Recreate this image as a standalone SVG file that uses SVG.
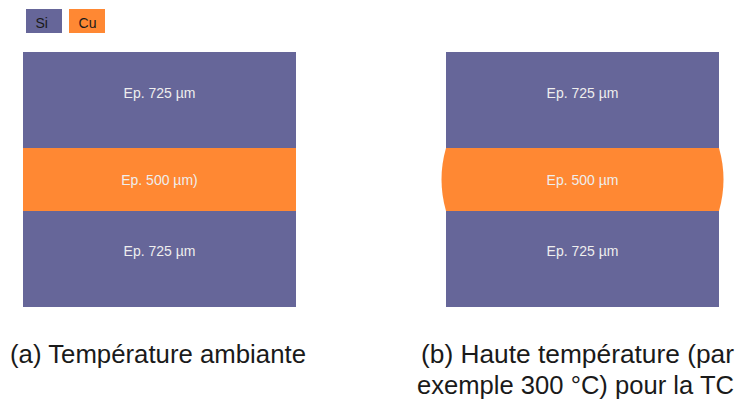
<svg xmlns="http://www.w3.org/2000/svg" width="737" height="402" viewBox="0 0 737 402">
<style>
.si{fill:#666699}
.cu{fill:#ff8833}
.lbl{font-family:"Liberation Sans",Arial,sans-serif;font-size:14px;fill:#eeeeee;text-anchor:middle}
.leg{font-family:"Liberation Sans",Arial,sans-serif;font-size:14px;fill:#1a1a1a}
.cap{font-family:"Liberation Sans",Arial,sans-serif;font-size:25px;fill:#1a1a1a}
</style>
<rect width="737" height="402" fill="#ffffff"/>
<g id="legend">
<g id="legend-si"><rect class="si" x="26" y="9" width="36" height="24"/><text class="leg" x="35.5" y="28">Si</text></g>
<g id="legend-cu"><rect class="cu" x="69" y="9" width="36" height="24"/><text class="leg" x="78.6" y="28">Cu</text></g>
</g>
<g id="stack-a">
<g id="a-si-top"><rect class="si" x="23" y="52" width="273" height="96"/><text class="lbl" x="159.5" y="97.7">Ep. 725 µm</text></g>
<g id="a-cu"><rect class="cu" x="23" y="148" width="273" height="63"/><text class="lbl" x="159.5" y="185">Ep. 500 µm)</text></g>
<g id="a-si-bottom"><rect class="si" x="23" y="211" width="273" height="96"/><text class="lbl" x="159.5" y="255.7">Ep. 725 µm</text></g>
</g>
<g id="stack-b">
<g id="b-si-top"><rect class="si" x="446" y="52" width="273" height="96"/><text class="lbl" x="582.5" y="97.7">Ep. 725 µm</text></g>
<g id="b-cu"><path class="cu" d="M446,148 L719,148 Q728,179.5 719,211 L446,211 Q437,179.5 446,148 Z"/><text class="lbl" x="582.5" y="185">Ep. 500 µm</text></g>
<g id="b-si-bottom"><rect class="si" x="446" y="211" width="273" height="96"/><text class="lbl" x="582.5" y="255.7">Ep. 725 µm</text></g>
</g>
<g id="captions">
<text class="cap" x="10" y="363" textLength="296" lengthAdjust="spacingAndGlyphs">(a) Température ambiante</text>
<text class="cap" x="421" y="363" textLength="313" lengthAdjust="spacingAndGlyphs">(b) Haute température (par</text>
<text class="cap" x="417" y="393.5" textLength="317" lengthAdjust="spacingAndGlyphs">exemple 300 °C) pour la TC</text>
</g>
<g id="connectors"/>
</svg>
